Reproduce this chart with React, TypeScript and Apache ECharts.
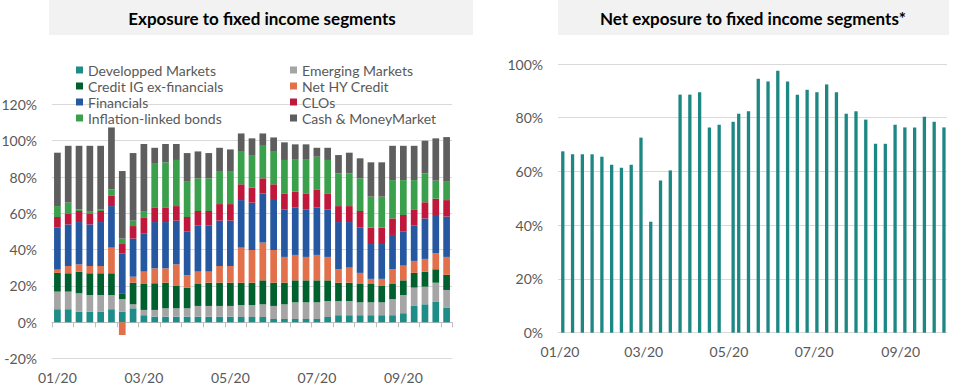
import React, { useEffect, useRef } from "react";
import * as echarts from "echarts";

// ---------- Left chart data (values in %) ----------
const leftCategories = [
  "01/20", "01/20", "01/20", "01/20", "02/20", "02/20", "02/20", "02/20",
  "03/20", "03/20", "03/20", "03/20", "04/20", "04/20", "04/20", "04/20",
  "05/20", "05/20", "05/20", "05/20", "06/20", "06/20", "06/20", "06/20",
  "07/20", "07/20", "07/20", "07/20", "08/20", "08/20", "08/20", "08/20",
  "09/20", "09/20", "09/20", "09/20", "10/20",
];

const developpedMarkets = [7.2, 7.2, 5.9, 5.9, 5.9, 7.2, 5.9, 7.7, 3.9, 3.1, 3.1, 3.1, 3.1, 3.1, 3.1, 3.1, 3.1, 2.9, 2.9, 2.9, 1.8, 1.8, 1.8, 1.8, 1.8, 2.9, 3.9, 3.9, 3.9, 3.9, 3.9, 3.9, 5.0, 9.0, 9.9, 11.2, 7.9];
const emergingMarkets = [9.7, 9.7, 10.1, 9.1, 9.1, 7.8, 6.9, 2.2, 2.9, 3.7, 4.6, 4.6, 4.6, 5.9, 5.9, 5.9, 5.9, 6.6, 6.6, 7.0, 7.2, 8.1, 9.2, 9.2, 9.2, 8.8, 7.8, 7.8, 7.1, 7.1, 7.1, 8.9, 10.0, 10.1, 9.7, 10.6, 9.9];
const creditIG = [10.3, 10.1, 11.9, 12.0, 12.0, 12.0, 3.2, 11.9, 14.3, 14.7, 14.1, 12.3, 11.4, 12.1, 12.8, 12.8, 12.8, 12.3, 12.3, 13.2, 12.8, 11.9, 12.1, 12.1, 12.1, 11.4, 10.1, 10.1, 10.1, 10.1, 9.0, 8.3, 8.1, 8.1, 8.3, 7.4, 8.3];
const netHY = [1.8, 4.0, 4.0, 4.0, 4.0, 14.1, -7.0, 3.3, 6.8, 8.2, 7.9, 11.9, 6.8, 6.8, 6.1, 9.2, 9.2, 19.3, 18.0, 20.8, 18.0, 14.2, 14.0, 12.9, 14.0, 12.9, 7.4, 8.3, 6.1, 2.8, 3.9, 8.1, 8.1, 6.6, 7.0, 8.8, 9.9];
const financials = [23.1, 22.9, 23.3, 22.9, 24.2, 22.9, 22.0, 21.0, 21.1, 25.5, 25.5, 24.1, 24.0, 25.3, 25.3, 25.0, 25.0, 26.2, 26.1, 27.1, 28.1, 26.2, 26.2, 26.2, 26.2, 26.2, 26.0, 25.1, 24.9, 19.2, 19.2, 18.9, 18.7, 19.4, 22.3, 21.1, 22.2];
const clos = [5.9, 6.1, 6.1, 6.1, 6.1, 5.9, 5.1, 6.9, 8.8, 8.1, 8.1, 8.0, 8.1, 8.1, 8.1, 9.1, 9.1, 8.7, 8.2, 8.3, 8.1, 8.8, 8.6, 8.8, 9.9, 8.8, 8.8, 8.8, 9.2, 9.0, 9.0, 9.1, 9.2, 9.0, 8.9, 9.0, 9.1];
const inflationLinked = [6.0, 5.9, 0.9, 0.9, 0.9, 3.3, 3.0, 3.0, 3.1, 24.0, 24.8, 25.4, 19.4, 18.0, 18.0, 18.2, 18.2, 17.9, 18.0, 17.9, 17.9, 18.4, 18.0, 18.9, 18.0, 18.4, 18.0, 18.0, 18.0, 17.1, 17.1, 21.1, 19.2, 16.1, 15.9, 9.9, 10.1];
const cashMoneyMarket = [29.4, 31.3, 35.0, 36.3, 35.0, 34.1, 37.2, 37.2, 37.3, 8.8, 10.1, 8.8, 15.8, 14.8, 13.9, 12.8, 11.9, 10.1, 9.2, 6.8, 7.9, 9.7, 8.1, 8.1, 4.9, 6.7, 10.1, 11.4, 11.0, 18.9, 18.9, 18.9, 18.9, 18.9, 18.0, 23.3, 24.6];

// ---------- Right chart data (values in %) ----------
const rightDates = [
  "2020-01-03", "2020-01-10", "2020-01-17", "2020-01-24", "2020-01-31",
  "2020-02-07", "2020-02-14", "2020-02-21", "2020-02-28",
  "2020-03-06", "2020-03-13", "2020-03-20", "2020-03-27",
  "2020-04-03", "2020-04-10", "2020-04-17", "2020-04-24",
  "2020-05-04", "2020-05-08", "2020-05-15", "2020-05-22", "2020-05-29",
  "2020-06-05", "2020-06-12", "2020-06-19", "2020-06-26",
  "2020-07-03", "2020-07-10", "2020-07-17", "2020-07-24", "2020-07-31",
  "2020-08-07", "2020-08-14", "2020-08-21", "2020-08-28",
  "2020-09-04", "2020-09-11", "2020-09-18", "2020-09-25", "2020-10-02",
];
const netExposure = [67.5, 66.4, 66.4, 66.4, 65.5, 62.5, 61.4, 62.5, 72.6, 41.3, 56.6, 60.4, 88.6, 88.6, 89.5, 76.4, 77.4, 78.5, 81.5, 82.4, 94.5, 93.5, 97.5, 93.5, 88.6, 90.4, 89.5, 92.4, 89.5, 81.5, 82.4, 79.3, 70.3, 70.3, 77.4, 76.4, 76.4, 80.4, 78.5, 76.4];

const leftTitle = "Exposure to fixed income segments";
const rightTitle = "Net exposure to fixed income segments*";

const FONT = "Lato, 'Open Sans', sans-serif";
const LABEL = "#595959";
const GRID = "#D9D9D9";

const leftSeries = [
  { name: "Developped Markets", data: developpedMarkets, color: "#1E8C87" },
  { name: "Emerging Markets", data: emergingMarkets, color: "#A5A5A5" },
  { name: "Credit IG ex-financials", data: creditIG, color: "#00612E" },
  { name: "Net HY Credit", data: netHY, color: "#E2714B" },
  { name: "Financials", data: financials, color: "#2658A2" },
  { name: "CLOs", data: clos, color: "#C0183C" },
  { name: "Inflation-linked bonds", data: inflationLinked, color: "#3AA04B" },
  { name: "Cash & MoneyMarket", data: cashMoneyMarket, color: "#5E5E5E" },
];

function fmtMonth(value: number) {
  const d = new Date(value);
  if (d.getDate() !== 1 || d.getHours() !== 0) return "";
  const m = String(d.getMonth() + 1).padStart(2, "0");
  const y = String(d.getFullYear()).slice(2);
  return `${m}/${y}`;
}

const legendText = { fontSize: 14, lineHeight: 16, color: LABEL, fontFamily: FONT };

export default function App() {
  const ref = useRef<HTMLDivElement>(null);
  useEffect(() => {
    const chart = echarts.init(ref.current!, null, { renderer: "svg" });
    const option: any = {
      animation: false,
      backgroundColor: "#ffffff",
      textStyle: { fontFamily: FONT },
      graphic: [
        { type: "rect", shape: { x: 49, y: 0, width: 424, height: 35 }, style: { fill: "#F2F2F2" }, z: -1 },
        {
          type: "text", x: 262, y: 18,
          style: { text: leftTitle, fontSize: 17, fontWeight: "bold", fontFamily: FONT, fill: "#000", textAlign: "center", textVerticalAlign: "middle", align: "center", verticalAlign: "middle" },
        },
        { type: "rect", shape: { x: 558, y: 0, width: 391, height: 35 }, style: { fill: "#F2F2F2" }, z: -1 },
        {
          type: "text", x: 753, y: 18,
          style: { text: rightTitle, fontSize: 17, fontWeight: "bold", fontFamily: FONT, fill: "#000", textAlign: "center", textVerticalAlign: "middle", align: "center", verticalAlign: "middle" },
        },
      ],
      legend: [
        {
          left: 76, top: 62, orient: "vertical", padding: 0, itemGap: 0, itemWidth: 7, itemHeight: 7, icon: "rect",
          data: ["Developped Markets", "Credit IG ex-financials", "Financials", "Inflation-linked bonds"],
          textStyle: legendText, selectedMode: false,
        },
        {
          left: 290, top: 62, orient: "vertical", padding: 0, itemGap: 0, itemWidth: 7, itemHeight: 7, icon: "rect",
          data: ["Emerging Markets", "Net HY Credit", "CLOs", "Cash & MoneyMarket"],
          textStyle: legendText, selectedMode: false,
        },
      ],
      grid: [
        { left: 52, right: 517, top: 104.4, bottom: 33.4, containLabel: false, outerBoundsMode: "none" },
        { left: 558, right: 22, top: 64, bottom: 59.3, containLabel: false, outerBoundsMode: "none" },
      ],
      xAxis: [
        {
          type: "category", gridIndex: 0, data: leftCategories, position: "bottom",
          axisLine: { show: false, onZero: false }, axisTick: { show: false },
          axisLabel: { interval: 7, color: LABEL, fontSize: 14, margin: 12, fontFamily: FONT },
          splitLine: { show: false },
        },
        {
          type: "category", gridIndex: 0, data: leftCategories, position: "bottom",
          axisLine: { show: true, onZero: true, onZeroAxisIndex: 0, lineStyle: { color: "#BFBFBF", width: 1 } },
          axisTick: { show: true, interval: 1, length: 5, inside: false, lineStyle: { color: "#BFBFBF" } },
          axisLabel: { show: false }, splitLine: { show: false },
        },
        {
          type: "time", gridIndex: 1,
          min: new Date(2019, 11, 31, 18, 0, 0).getTime(),
          max: new Date(2020, 9, 3, 0, 0, 0).getTime(),
          splitNumber: 4,
          axisLine: { show: true, onZero: false, lineStyle: { color: GRID, width: 1 } },
          axisTick: { show: false },
          axisLabel: { formatter: (v: number) => fmtMonth(v), color: LABEL, fontSize: 14, margin: 12, fontFamily: FONT, hideOverlap: false },
          splitLine: { show: false },
        },
      ],
      yAxis: [
        {
          type: "value", gridIndex: 0, min: -20, max: 120, interval: 20,
          axisLabel: { formatter: "{value}%", color: LABEL, fontSize: 14, margin: 15, fontFamily: FONT },
          axisLine: { show: false }, axisTick: { show: false },
          splitLine: { show: true, lineStyle: { color: GRID, width: 1 } },
        },
        {
          type: "value", gridIndex: 1, min: 0, max: 100, interval: 20,
          axisLabel: { formatter: "{value}%", color: LABEL, fontSize: 14, margin: 15, fontFamily: FONT },
          axisLine: { show: false }, axisTick: { show: false },
          splitLine: { show: true, lineStyle: { color: GRID, width: 1 } },
        },
      ],
      series: [
        ...leftSeries.map((s) => ({
          type: "bar", name: s.name, data: s.data, stack: "total",
          xAxisIndex: 0, yAxisIndex: 0, barWidth: "62%",
          itemStyle: { color: s.color }, emphasis: { disabled: true },
        })),
        {
          type: "bar", name: "Net exposure",
          data: rightDates.map((d, i) => [d, netExposure[i]]),
          xAxisIndex: 2, yAxisIndex: 1, barWidth: 3.3,
          itemStyle: { color: "#1C8783" }, emphasis: { disabled: true },
        },
      ],
    };
    chart.setOption(option);
    return () => chart.dispose();
  }, []);
  return (
    <div
      ref={ref}
      style={{ position: "fixed", left: 0, top: 0, width: 969, height: 392, background: "#fff" }}
    />
  );
}
